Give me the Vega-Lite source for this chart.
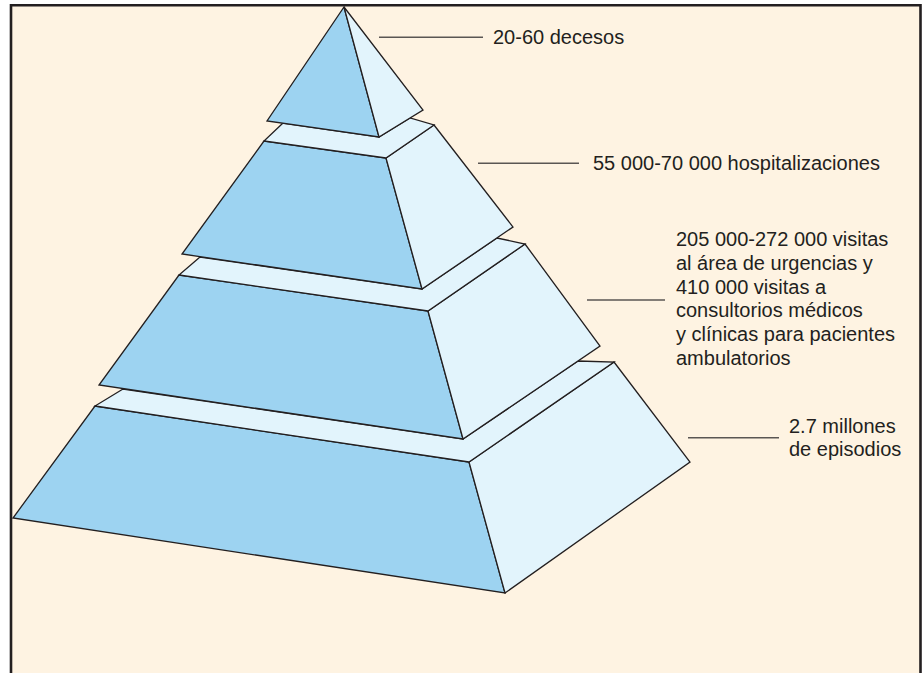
{
  "$schema": "https://vega.github.io/schema/vega-lite/v6.json",
  "width": 924,
  "height": 673,
  "padding": 0,
  "autosize": {"type": "none"},
  "background": "white",
  "view": {"stroke": null},
  "projection": {"type": "identity", "reflectY": false},
  "datasets": {
    "shapes": [
      {"type": "Feature", "properties": {"group": "page", "surface": "page"}, "geometry": {"type": "Polygon", "coordinates": [[[0, 0], [924, 0], [924, 673], [0, 673], [0, 0]]]}},
      {"type": "Feature", "properties": {"group": "page", "surface": "panel"}, "geometry": {"type": "Polygon", "coordinates": [[[11, 5], [920.5, 5], [920.5, 673], [11, 673], [11, 5]]]}},
      {"type": "Feature", "properties": {"group": "frame", "surface": "frame"}, "geometry": {"type": "LineString", "coordinates": [[11, 673], [11, 5.3], [920.5, 5.3], [920.5, 673]]}},
      {"type": "Feature", "properties": {"group": "face", "surface": "front", "tier": 4}, "geometry": {"type": "Polygon", "coordinates": [[[95, 406], [469, 462], [505, 593], [13, 518], [95, 406]]]}},
      {"type": "Feature", "properties": {"group": "face", "surface": "side", "tier": 4}, "geometry": {"type": "Polygon", "coordinates": [[[469, 462], [614, 362], [690, 462], [505, 593], [469, 462]]]}},
      {"type": "Feature", "properties": {"group": "face", "surface": "side", "tier": 4}, "geometry": {"type": "Polygon", "coordinates": [[[123, 389], [95, 406], [469, 462], [614, 362], [578, 361], [463, 439], [123, 389]]]}},
      {"type": "Feature", "properties": {"group": "face", "surface": "front", "tier": 3}, "geometry": {"type": "Polygon", "coordinates": [[[179, 275], [428, 311], [463, 439], [99, 385], [179, 275]]]}},
      {"type": "Feature", "properties": {"group": "face", "surface": "side", "tier": 3}, "geometry": {"type": "Polygon", "coordinates": [[[428, 311], [525, 244], [600, 346], [463, 439], [428, 311]]]}},
      {"type": "Feature", "properties": {"group": "face", "surface": "side", "tier": 3}, "geometry": {"type": "Polygon", "coordinates": [[[200, 257], [179, 275], [428, 311], [525, 244], [497, 238], [422, 289], [200, 257]]]}},
      {"type": "Feature", "properties": {"group": "face", "surface": "front", "tier": 2}, "geometry": {"type": "Polygon", "coordinates": [[[264, 141], [386, 158], [422, 289], [182, 254], [264, 141]]]}},
      {"type": "Feature", "properties": {"group": "face", "surface": "side", "tier": 2}, "geometry": {"type": "Polygon", "coordinates": [[[386, 158], [434, 125], [513, 227], [422, 289], [386, 158]]]}},
      {"type": "Feature", "properties": {"group": "face", "surface": "side", "tier": 2}, "geometry": {"type": "Polygon", "coordinates": [[[283, 123], [264, 141], [386, 158], [434, 125], [410, 118], [379, 137], [283, 123]]]}},
      {"type": "Feature", "properties": {"group": "face", "surface": "front", "tier": 1}, "geometry": {"type": "Polygon", "coordinates": [[[344, 7], [379, 137], [267, 121], [344, 7]]]}},
      {"type": "Feature", "properties": {"group": "face", "surface": "side", "tier": 1}, "geometry": {"type": "Polygon", "coordinates": [[[344, 7], [423, 110], [379, 137], [344, 7]]]}}
    ],
    "leaders": [
      {"x1": 379, "y1": 37.3, "x2": 483, "y2": 37.3},
      {"x1": 478, "y1": 163.3, "x2": 579, "y2": 163.3},
      {"x1": 587, "y1": 300, "x2": 665, "y2": 300},
      {"x1": 688, "y1": 437.7, "x2": 779, "y2": 437.7}
    ],
    "labels": [
      {"x": 493, "y": 44.4, "label": "20-60 decesos"},
      {"x": 593, "y": 170.2, "label": "55 000-70 000 hospitalizaciones"},
      {"x": 676, "y": 246, "label": "205 000-272 000 visitas\nal área de urgencias y\n410 000 visitas a\nconsultorios médicos\ny clínicas para pacientes\nambulatorios"},
      {"x": 789, "y": 432.6, "label": "2.7 millones\nde episodios"}
    ]
  },
  "layer": [
    {
      "data": {"name": "shapes"},
      "transform": [{"filter": "datum.properties.group === 'page'"}],
      "mark": {"type": "geoshape", "strokeWidth": 0},
      "encoding": {
        "fill": {"field": "properties.surface", "type": "nominal", "scale": {"domain": ["page", "panel", "front", "side"], "range": ["#FFFFFF", "#FEF3E2", "#9DD3F1", "#E2F4FC"]}, "legend": null}
      }
    },
    {
      "data": {"name": "shapes"},
      "transform": [{"filter": "datum.properties.group === 'face'"}],
      "mark": {"type": "geoshape", "stroke": "#231F20", "strokeWidth": 1.3, "strokeJoin": "miter"},
      "encoding": {
        "fill": {"field": "properties.surface", "type": "nominal", "scale": {"domain": ["page", "panel", "front", "side"], "range": ["#FFFFFF", "#FEF3E2", "#9DD3F1", "#E2F4FC"]}, "legend": null}
      }
    },
    {
      "data": {"name": "shapes"},
      "transform": [{"filter": "datum.properties.group === 'frame'"}],
      "mark": {"type": "geoshape", "filled": false, "stroke": "#231F20", "strokeWidth": 2.6}
    },
    {
      "data": {"name": "leaders"},
      "mark": {"type": "rule", "stroke": "#5A5653", "strokeWidth": 1.4},
      "encoding": {
        "longitude": {"field": "x1", "type": "quantitative"},
        "latitude": {"field": "y1", "type": "quantitative"},
        "longitude2": {"field": "x2"},
        "latitude2": {"field": "y2"}
      }
    },
    {
      "data": {"name": "labels"},
      "mark": {"type": "text", "align": "left", "baseline": "alphabetic", "font": "Liberation Sans", "fontSize": 20, "lineHeight": 23.8, "lineBreak": "\n", "fill": "#231F20"},
      "encoding": {
        "longitude": {"field": "x", "type": "quantitative"},
        "latitude": {"field": "y", "type": "quantitative"},
        "text": {"field": "label", "type": "nominal"}
      }
    }
  ]
}
